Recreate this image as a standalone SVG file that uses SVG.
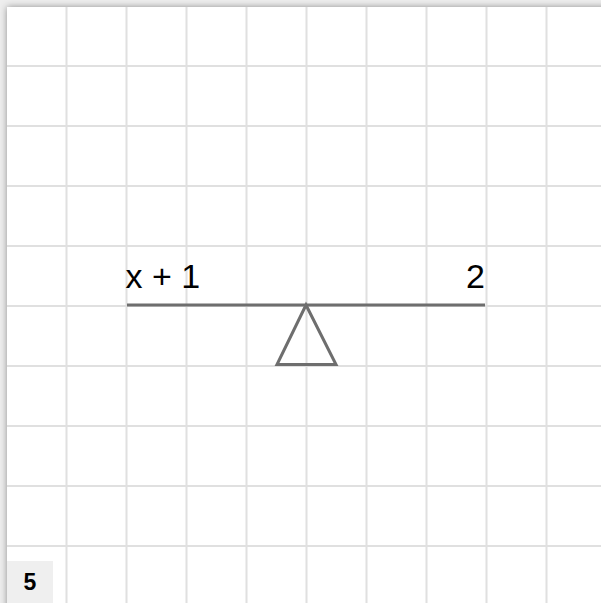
<svg xmlns="http://www.w3.org/2000/svg" width="601" height="603" viewBox="0 0 601 603">
  <defs>
    <filter id="shadow" x="-5%" y="-5%" width="110%" height="110%">
      <feDropShadow dx="0" dy="0" stdDeviation="3.5" flood-color="#000" flood-opacity="0.4"/>
    </filter>
    <style>
      .grid line { stroke: #e0e0e0; stroke-width: 2; }
      .beam { stroke: #6e6e6e; stroke-width: 3; fill: none; stroke-linecap: butt; }
      .lbl { font-family: "Liberation Sans", Arial, sans-serif; font-size: 34px; fill: #000; }
      .num { font-family: "Liberation Sans", Arial, sans-serif; font-size: 23px; font-weight: bold; fill: #000; }
    </style>
  </defs>
  <rect x="0" y="0" width="601" height="603" fill="#eeeeee"/>
  <rect x="7" y="7" width="640" height="640" fill="#fff" filter="url(#shadow)"/>
  <g class="grid">
    <line x1="66.5" y1="7" x2="66.5" y2="603"/>
    <line x1="126.5" y1="7" x2="126.5" y2="603"/>
    <line x1="186.5" y1="7" x2="186.5" y2="603"/>
    <line x1="246.5" y1="7" x2="246.5" y2="603"/>
    <line x1="306.5" y1="7" x2="306.5" y2="603"/>
    <line x1="366.5" y1="7" x2="366.5" y2="603"/>
    <line x1="426.5" y1="7" x2="426.5" y2="603"/>
    <line x1="486.5" y1="7" x2="486.5" y2="603"/>
    <line x1="546.5" y1="7" x2="546.5" y2="603"/>
    <line x1="7" y1="66" x2="601" y2="66"/>
    <line x1="7" y1="126" x2="601" y2="126"/>
    <line x1="7" y1="186" x2="601" y2="186"/>
    <line x1="7" y1="246" x2="601" y2="246"/>
    <line x1="7" y1="306" x2="601" y2="306"/>
    <line x1="7" y1="366" x2="601" y2="366"/>
    <line x1="7" y1="426" x2="601" y2="426"/>
    <line x1="7" y1="486" x2="601" y2="486"/>
    <line x1="7" y1="546" x2="601" y2="546"/>
  </g>
  <g id="balance">
    <line class="beam" x1="127" y1="305" x2="485" y2="305"/>
    <polygon class="beam" points="306,305 277,364.5 336,364.5" stroke-linejoin="miter"/>
  </g>
  <g id="left-label">
    <text class="lbl" x="125.5" y="288">x + 1</text>
  </g>
  <g id="right-label">
    <text class="lbl" x="485" y="288" text-anchor="end">2</text>
  </g>
  <g id="page-number">
    <rect x="7" y="561" width="46" height="42" fill="#efefef"/>
    <text class="num" x="30" y="590" text-anchor="middle">5</text>
  </g>
</svg>
